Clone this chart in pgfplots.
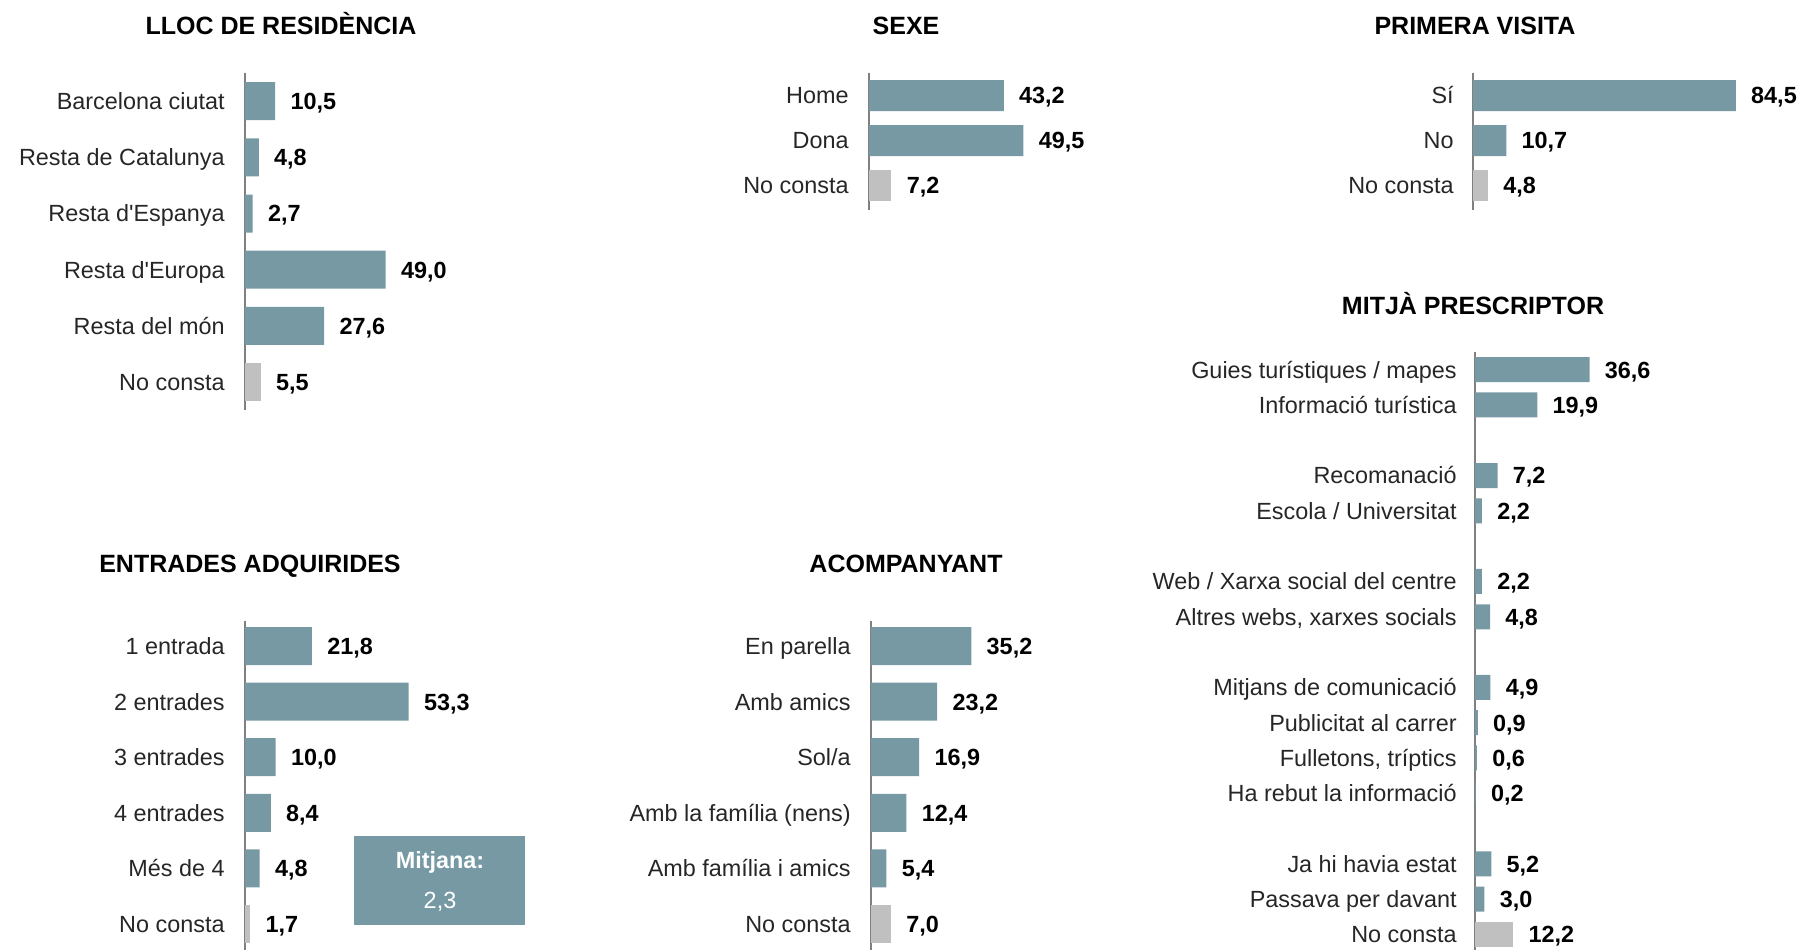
\documentclass[border=0pt]{standalone}
\usepackage{fontspec}
\setmainfont{Liberation Sans}
\usepackage{pgfplots}
\pgfplotsset{compat=1.18}
\definecolor{barteal}{RGB}{118,153,164}
\definecolor{bargray}{RGB}{192,192,192}
\definecolor{axgray}{RGB}{128,128,128}
\newcommand\lab{\fontsize{11.7}{14}\selectfont}
\newcommand\val{\fontsize{11.7}{14}\selectfont\bfseries}
\newcommand\ttl{\fontsize{12.5}{15}\selectfont\bfseries}
\newcommand\q{\textquotesingle}
\pgfplotsset{
  hbar/.style={
    xbar, bar shift=0pt, clip=false, enlargelimits=false,
    xmin=0,
    axis x line=none, axis y line=left,
    y axis line style={draw=axgray, line width=1pt, -},
    y dir=reverse,
    major tick length=0pt,
    ytick style={draw=none},
    yticklabel style={font=\lab, anchor=east, inner sep=0pt, text height=8.4pt, text depth=0pt, xshift=-10pt, text=black!85},
    point meta=x,
    nodes near coords={\pgfmathprintnumber[fixed, fixed zerofill, precision=1, use comma, assume math mode=true]{\pgfplotspointmeta}},
    nodes near coords style={font=\val, anchor=west, inner sep=0pt, text height=8.4pt, text depth=0pt, xshift=7.5pt},
    anchor=north west,
  },
  tealbar/.style={fill=barteal, draw=none},
  graybar/.style={fill=bargray, draw=none},
}
\begin{document}
\begin{tikzpicture}
\useasboundingbox (0,0) rectangle (904.5pt,-475pt);

% ---------- LLOC DE RESIDENCIA ----------
\begin{axis}[hbar, at={(122.5pt,-36.5pt)}, x=1.435pt, y=28.1pt,
  xmax=60, ymin=-0.5, ymax=5.5, bar width=19pt,
  ytick={0,1,2,3,4,5},
  yticklabels={Barcelona ciutat, Resta de Catalunya, Resta d\q Espanya, Resta d\q Europa, Resta del món, No consta}]
\addplot[tealbar] coordinates {(10.5,0) (4.8,1) (2.7,2) (49.0,3) (27.6,4)};
\addplot[graybar] coordinates {(5.5,5)};
\end{axis}

% ---------- SEXE ----------
\begin{axis}[hbar, at={(434.5pt,-36.5pt)}, x=1.56pt, y=22.5pt,
  xmax=60, ymin=-0.5, ymax=2.55, bar width=15.5pt,
  ytick={0,1,2},
  yticklabels={Home, Dona, No consta}]
\addplot[tealbar] coordinates {(43.2,0) (49.5,1)};
\addplot[graybar] coordinates {(7.2,2)};
\end{axis}

% ---------- PRIMERA VISITA ----------
\begin{axis}[hbar, at={(736.5pt,-36.5pt)}, x=1.555pt, y=22.5pt,
  xmax=90, ymin=-0.5, ymax=2.55, bar width=15.5pt,
  yticklabel style={xshift=0.5pt},
  ytick={0,1,2},
  yticklabels={Sí, No, No consta}]
\addplot[tealbar] coordinates {(84.5,0) (10.7,1)};
\addplot[graybar] coordinates {(4.8,2)};
\end{axis}

% ---------- MITJA PRESCRIPTOR ----------
\begin{axis}[hbar, at={(737.5pt,-176pt)}, x=1.565pt, y=17.65pt,
  xmax=60, ymin=-0.5, ymax=16.45, bar width=12.5pt,
  yticklabel style={xshift=1pt},
  ytick={0,1,3,4,6,7,9,10,11,12,14,15,16},
  yticklabels={Guies turístiques / mapes, Informació turística, Recomanació, Escola / Universitat, Web / Xarxa social del centre, {Altres webs, xarxes socials}, Mitjans de comunicació, Publicitat al carrer, {Fulletons, tríptics}, Ha rebut la informació, Ja hi havia estat, Passava per davant, No consta}]
\addplot[tealbar] coordinates {(36.6,0) (19.9,1) (7.2,3) (2.2,4) (2.2,6) (4.8,7) (4.9,9) (0.9,10) (0.6,11) (0.2,12) (5.2,14) (3.0,15)};
\addplot[graybar] coordinates {(12.2,16)};
\end{axis}

% ---------- ENTRADES ADQUIRIDES ----------
\begin{axis}[hbar, at={(122.5pt,-310.5pt)}, x=1.535pt, y=27.8pt,
  xmax=60, ymin=-0.45, ymax=5.47, bar width=19pt,
  ytick={0,1,2,3,4,5},
  yticklabels={1 entrada, 2 entrades, 3 entrades, 4 entrades, Més de 4, No consta}]
\addplot[tealbar] coordinates {(21.8,0) (53.3,1) (10.0,2) (8.4,3) (4.8,4)};
\addplot[graybar] coordinates {(1.7,5)};
\end{axis}

% ---------- ACOMPANYANT ----------
\begin{axis}[hbar, at={(435.5pt,-310.5pt)}, x=1.425pt, y=27.8pt,
  xmax=60, ymin=-0.45, ymax=5.47, bar width=19pt,
  ytick={0,1,2,3,4,5},
  yticklabels={En parella, Amb amics, Sol/a, Amb la família (nens), Amb família i amics, No consta}]
\addplot[tealbar] coordinates {(35.2,0) (23.2,1) (16.9,2) (12.4,3) (5.4,4)};
\addplot[graybar] coordinates {(7.0,5)};
\end{axis}

% ---------- titles ----------
\node[font=\ttl, anchor=base] at (140.5pt,-17pt) {LLOC DE RESIDÈNCIA};
\node[font=\ttl, anchor=base] at (453pt,-17pt) {SEXE};
\node[font=\ttl, anchor=base] at (737.5pt,-17pt) {PRIMERA VISITA};
\node[font=\ttl, anchor=base] at (736.5pt,-157pt) {MITJÀ PRESCRIPTOR};
\node[font=\ttl, anchor=base] at (125pt,-286pt) {ENTRADES ADQUIRIDES};
\node[font=\ttl, anchor=base] at (453pt,-286pt) {ACOMPANYANT};

% ---------- Mitjana box ----------
\fill[barteal] (177pt,-418pt) rectangle (262.5pt,-462.5pt);
\node[font=\val, text=white, anchor=base] at (220pt,-434pt) {Mitjana:};
\node[font=\lab, text=white, anchor=base] at (220pt,-454pt) {2,3};
\end{tikzpicture}
\end{document}
